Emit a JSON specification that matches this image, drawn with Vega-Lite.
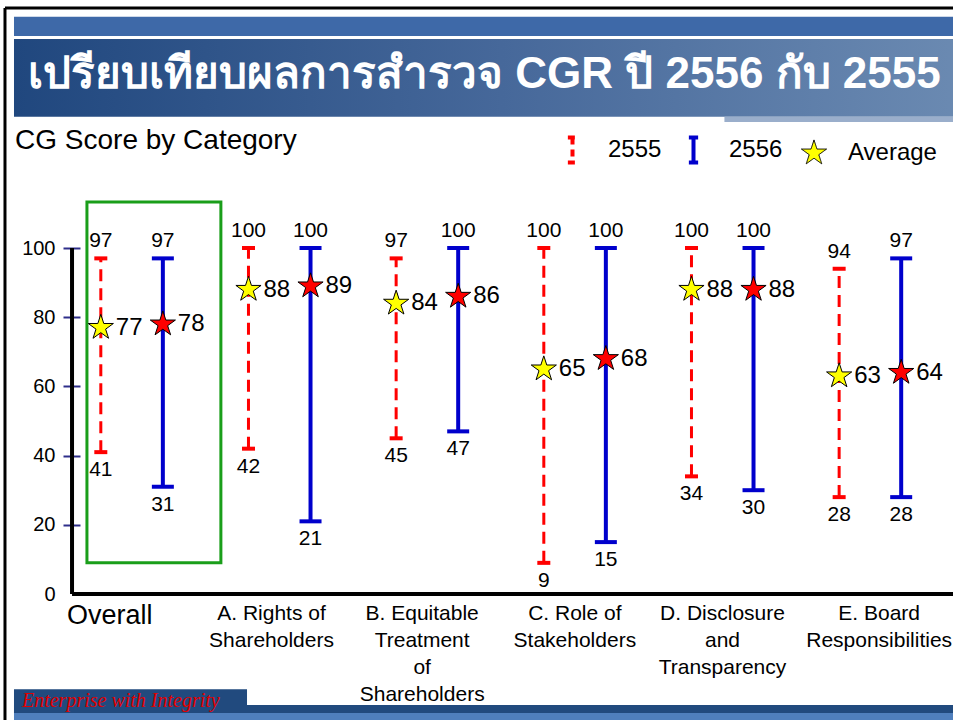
{
  "$schema": "https://vega.github.io/schema/vega-lite/v6.json",
  "width": 953,
  "height": 720,
  "autosize": {"type": "none"},
  "padding": 0,
  "background": "white",
  "config": {
    "view": {"stroke": null},
    "font": "Liberation Sans",
    "legend": {
      "orient": "none",
      "legendX": 557,
      "legendY": 134,
      "direction": "horizontal",
      "labelFontSize": 24,
      "labelFont": "Liberation Sans",
      "labelColor": "#000000",
      "labelOffset": 20,
      "columnPadding": 16,
      "symbolSize": 700,
      "padding": 0,
      "title": null
    }
  },
  "data": {
    "values": [
      {"category": "Overall", "year": "2555", "min": 41, "max": 97, "avg": 77},
      {"category": "Overall", "year": "2556", "min": 31, "max": 97, "avg": 78},
      {"category": "A. Rights of Shareholders", "year": "2555", "min": 42, "max": 100, "avg": 88},
      {"category": "A. Rights of Shareholders", "year": "2556", "min": 21, "max": 100, "avg": 89},
      {"category": "B. Equitable Treatment of Shareholders", "year": "2555", "min": 45, "max": 97, "avg": 84},
      {"category": "B. Equitable Treatment of Shareholders", "year": "2556", "min": 47, "max": 100, "avg": 86},
      {"category": "C. Role of Stakeholders", "year": "2555", "min": 9, "max": 100, "avg": 65},
      {"category": "C. Role of Stakeholders", "year": "2556", "min": 15, "max": 100, "avg": 68},
      {"category": "D. Disclosure and Transparency", "year": "2555", "min": 34, "max": 100, "avg": 88},
      {"category": "D. Disclosure and Transparency", "year": "2556", "min": 30, "max": 100, "avg": 88},
      {"category": "E. Board Responsibilities", "year": "2555", "min": 28, "max": 94, "avg": 63},
      {"category": "E. Board Responsibilities", "year": "2556", "min": 28, "max": 97, "avg": 64}
    ]
  },
  "layer": [
    {
      "mark": {"type": "rule"},
      "encoding": {
        "x": {"field": "category", "type": "nominal",
          "scale": {"type": "band", "domain": ["Overall", "A. Rights of Shareholders", "B. Equitable Treatment of Shareholders", "C. Role of Stakeholders", "D. Disclosure and Transparency", "E. Board Responsibilities"], "range": [58, 944], "paddingInner": 0, "paddingOuter": 0},
          "axis": {"orient": "bottom", "offset": -126, "domain": false, "ticks": false, "tickSize": 0, "grid": false, "labelPadding": 8, "labelBaseline": "top", "labelAngle": 0,
            "labelFontSize": {"condition": {"test": "datum.value == 'Overall'", "value": 27}, "value": 21},
            "labelOffset": {"condition": [
              {"test": "datum.value == 'Overall'", "value": -22},
              {"test": "datum.value == 'A. Rights of Shareholders'", "value": -8},
              {"test": "datum.value == 'B. Equitable Treatment of Shareholders'", "value": -5},
              {"test": "datum.value == 'E. Board Responsibilities'", "value": 9}
            ], "value": 0},
            "labelLineHeight": 27, "labelLimit": 0, "labelOverlap": false, "labelFlush": false, "labelColor": "#000000", "labelFont": "Liberation Sans",
            "labelExpr": "datum.label == 'A. Rights of Shareholders' ? ['A. Rights of', 'Shareholders'] : datum.label == 'B. Equitable Treatment of Shareholders' ? ['B. Equitable', 'Treatment', 'of', 'Shareholders'] : datum.label == 'C. Role of Stakeholders' ? ['C. Role of', 'Stakeholders'] : datum.label == 'D. Disclosure and Transparency' ? ['D. Disclosure', 'and', 'Transparency'] : datum.label == 'E. Board Responsibilities' ? ['E. Board', 'Responsibilities'] : datum.label",
            "title": null}},
        "xOffset": {"field": "year", "type": "nominal", "scale": {"domain": ["2555", "2556"], "paddingInner": 0, "paddingOuter": 0.19}},
        "y": {"field": "min", "type": "quantitative",
          "scale": {"domain": [0, 100], "range": [594, 248], "nice": false, "zero": false},
          "axis": {"orient": "left", "values": [0, 20, 40, 60, 80, 100], "offset": -80, "domain": false, "grid": false, "ticks": true, "tickSize": 17, "tickWidth": 2, "tickColor": "#2e2e8a",
            "tickOpacity": {"condition": {"test": "datum.value == 0", "value": 0}, "value": 1},
            "labelPadding": 8, "labelFontSize": 20, "labelColor": "#000000", "labelFont": "Liberation Sans", "title": null}},
        "y2": {"field": "max"},
        "stroke": {"condition": {"test": "datum.year == '2555'", "value": "#ff0000"}, "value": "#0000cc"},
        "strokeDash": {"condition": {"test": "datum.year == '2555'", "value": [12, 7]}, "value": [1, 0]},
        "strokeWidth": {"condition": {"test": "datum.year == '2555'", "value": 3}, "value": 4}
      }
    },
    {
      "data": {"values": [{}]},
      "mark": {"type": "rule", "stroke": "#000000", "strokeWidth": 3},
      "encoding": {
        "x": {"datum": "Overall", "bandPosition": -0.359, "type": "nominal"},
        "y": {"datum": 169.4, "type": "quantitative"},
        "y2": {"datum": -40}
      }
    },
    {
      "data": {"values": [{}]},
      "mark": {"type": "rule", "stroke": "#000000", "strokeWidth": 3},
      "encoding": {
        "x": {"datum": "Overall", "bandPosition": -0.359, "type": "nominal"},
        "x2": {"datum": "E. Board Responsibilities", "bandPosition": 1.3},
        "y": {"datum": 169.4, "type": "quantitative"}
      }
    },
    {
      "data": {"values": [{}]},
      "mark": {"type": "rect", "fill": "#3e69a8"},
      "encoding": {
        "x": {"datum": "Overall", "bandPosition": -0.298, "type": "nominal"},
        "x2": {"datum": "E. Board Responsibilities", "bandPosition": 1.3},
        "y": {"datum": 166.8, "type": "quantitative"},
        "y2": {"datum": 161.3}
      }
    },
    {
      "data": {"values": [{}]},
      "mark": {"type": "rect", "fill": {"gradient": "linear", "x1": 0, "y1": 0, "x2": 1, "y2": 0,
        "stops": [{"offset": 0, "color": "#20477e"}, {"offset": 0.5, "color": "#46689a"}, {"offset": 1, "color": "#6d8cb3"}]}},
      "encoding": {
        "x": {"datum": "Overall", "bandPosition": -0.298, "type": "nominal"},
        "x2": {"datum": "E. Board Responsibilities", "bandPosition": 1.3},
        "y": {"datum": 160.4, "type": "quantitative"},
        "y2": {"datum": 137.9}
      }
    },
    {
      "data": {"values": [{}]},
      "mark": {"type": "rect", "fill": "#9aaecb"},
      "encoding": {
        "x": {"datum": "D. Disclosure and Transparency", "bandPosition": 0.513, "type": "nominal"},
        "x2": {"datum": "E. Board Responsibilities", "bandPosition": 1.3},
        "y": {"datum": 137.9, "type": "quantitative"},
        "y2": {"datum": 136.4}
      }
    },
    {
      "data": {"values": [{}]},
      "mark": {"type": "rect", "fill": "#214a7e"},
      "encoding": {
        "x": {"datum": "Overall", "bandPosition": -0.298, "type": "nominal"},
        "x2": {"datum": "A. Rights of Shareholders", "bandPosition": 0.28},
        "y": {"datum": -27.5, "type": "quantitative"},
        "y2": {"datum": -34.4}
      }
    },
    {
      "data": {"values": [{}]},
      "mark": {"type": "rect", "fill": "#214a7e"},
      "encoding": {
        "x": {"datum": "Overall", "bandPosition": -0.298, "type": "nominal"},
        "x2": {"datum": "E. Board Responsibilities", "bandPosition": 1.3},
        "y": {"datum": -32.1, "type": "quantitative"},
        "y2": {"datum": -34.4}
      }
    },
    {
      "data": {"values": [{}]},
      "mark": {"type": "rect", "fill": "#4f7fbd"},
      "encoding": {
        "x": {"datum": "Overall", "bandPosition": -0.298, "type": "nominal"},
        "x2": {"datum": "E. Board Responsibilities", "bandPosition": 1.3},
        "y": {"datum": -34.4, "type": "quantitative"},
        "y2": {"datum": -40}
      }
    },
    {
      "data": {"values": [{"t": "Enterprise with Integrity"}]},
      "mark": {"type": "text", "align": "left", "baseline": "middle", "font": "Liberation Serif", "fontStyle": "italic", "fontSize": 20, "fill": "#e00000"},
      "encoding": {
        "x": {"datum": "Overall", "bandPosition": -0.244, "type": "nominal"},
        "y": {"datum": -30.9, "type": "quantitative"},
        "text": {"field": "t"}
      }
    },
    {
      "data": {"values": [{"t": "เปรียบเทียบผลการสำรวจ CGR ปี 2556 กับ 2555"}]},
      "mark": {"type": "text", "align": "left", "baseline": "middle", "fontSize": 44, "fontWeight": "bold", "fill": "#ffffff"},
      "encoding": {
        "x": {"datum": "Overall", "bandPosition": -0.203, "type": "nominal"},
        "y": {"datum": 150, "type": "quantitative"},
        "text": {"field": "t"}
      }
    },
    {
      "data": {"values": [{"t": "CG Score by Category"}]},
      "mark": {"type": "text", "align": "left", "baseline": "middle", "fontSize": 28, "fill": "#000000"},
      "encoding": {
        "x": {"datum": "Overall", "bandPosition": -0.291, "type": "nominal"},
        "y": {"datum": 130.9, "type": "quantitative"},
        "text": {"field": "t"}
      }
    },
    {
      "data": {"values": [{}]},
      "mark": {"type": "rect", "fill": null, "stroke": "#1a9e1a", "strokeWidth": 3},
      "encoding": {
        "x": {"datum": "Overall", "bandPosition": 0.196, "type": "nominal"},
        "x2": {"datum": "Overall", "bandPosition": 1.103},
        "y": {"datum": 9.0, "type": "quantitative"},
        "y2": {"datum": 113.3}
      }
    },
    {
      "data": {"values": [{}]},
      "mark": {"type": "rule", "stroke": "#000000", "strokeWidth": 4},
      "encoding": {
        "x": {"datum": "Overall", "bandPosition": 0.095, "type": "nominal"},
        "x2": {"datum": "E. Board Responsibilities", "bandPosition": 1.3},
        "y": {"datum": 0, "type": "quantitative"}
      }
    },
    {
      "data": {"values": [{}]},
      "mark": {"type": "rule", "stroke": "#000000", "strokeWidth": 4},
      "encoding": {
        "x": {"datum": "Overall", "bandPosition": 0.095, "type": "nominal"},
        "y": {"datum": 0, "type": "quantitative"},
        "y2": {"datum": 100}
      }
    },
    {
      "mark": {"type": "tick", "thickness": 4, "opacity": 1},
      "encoding": {
        "x": {"field": "category", "type": "nominal"},
        "xOffset": {"field": "year", "type": "nominal"},
        "y": {"field": "min", "type": "quantitative"},
        "color": {"condition": {"test": "datum.year == '2555'", "value": "#ff0000"}, "value": "#0000cc"},
        "size": {"condition": {"test": "datum.year == '2555'", "value": 13}, "value": 22}
      }
    },
    {
      "mark": {"type": "tick", "thickness": 4, "opacity": 1},
      "encoding": {
        "x": {"field": "category", "type": "nominal"},
        "xOffset": {"field": "year", "type": "nominal"},
        "y": {"field": "max", "type": "quantitative"},
        "color": {"condition": {"test": "datum.year == '2555'", "value": "#ff0000"}, "value": "#0000cc"},
        "size": {"condition": {"test": "datum.year == '2555'", "value": 13}, "value": 22}
      }
    },
    {
      "mark": {"type": "point", "shape": "M0,-1L0.2245,-0.309L0.951,-0.309L0.363,0.118L0.588,0.809L0,0.382L-0.588,0.809L-0.363,0.118L-0.951,-0.309L-0.2245,-0.309Z", "size": 700, "stroke": "#000000", "strokeWidth": 1, "opacity": 1, "filled": true},
      "encoding": {
        "x": {"field": "category", "type": "nominal"},
        "xOffset": {"field": "year", "type": "nominal"},
        "y": {"field": "avg", "type": "quantitative"},
        "fill": {"condition": {"test": "datum.year == '2555'", "value": "#ffff00"}, "value": "#ff0000"}
      }
    },
    {
      "mark": {"type": "text", "align": "left", "baseline": "middle", "dx": 15, "fontSize": 24, "fill": "#000000"},
      "encoding": {
        "x": {"field": "category", "type": "nominal"},
        "xOffset": {"field": "year", "type": "nominal"},
        "y": {"field": "avg", "type": "quantitative"},
        "text": {"field": "avg"}
      }
    },
    {
      "mark": {"type": "text", "align": "center", "baseline": "middle", "dy": 18, "fontSize": 21, "fill": "#000000"},
      "encoding": {
        "x": {"field": "category", "type": "nominal"},
        "xOffset": {"field": "year", "type": "nominal"},
        "y": {"field": "min", "type": "quantitative"},
        "text": {"field": "min"}
      }
    },
    {
      "mark": {"type": "text", "align": "center", "baseline": "middle", "dy": -17, "fontSize": 21, "fill": "#000000"},
      "encoding": {
        "x": {"field": "category", "type": "nominal"},
        "xOffset": {"field": "year", "type": "nominal"},
        "y": {"field": "max", "type": "quantitative"},
        "text": {"field": "max"}
      }
    },
    {
      "data": {"values": [{"series": "2555"}, {"series": "2556"}, {"series": "Average"}]},
      "transform": [{"filter": "datum.series == 'none'"}],
      "mark": {"type": "point", "opacity": 1, "size": 700},
      "encoding": {
        "shape": {"field": "series", "type": "nominal", "title": null,
          "scale": {"domain": ["2555", "2556", "Average"], "range": ["M-0.35,-0.95L0.35,-0.95M0,-0.95L0,0.95M-0.35,0.95L0.35,0.95", "M-0.35,-0.95L0.35,-0.95M0,-0.95L0,0.95M-0.35,0.95L0.35,0.95", "M0,-1L0.2245,-0.309L0.951,-0.309L0.363,0.118L0.588,0.809L0,0.382L-0.588,0.809L-0.363,0.118L-0.951,-0.309L-0.2245,-0.309Z"]}},
        "fill": {"field": "series", "type": "nominal", "title": null,
          "scale": {"domain": ["2555", "2556", "Average"], "range": ["transparent", "transparent", "#ffff00"]}},
        "stroke": {"field": "series", "type": "nominal", "title": null,
          "scale": {"domain": ["2555", "2556", "Average"], "range": ["#ff0000", "#0000cc", "#000000"]}},
        "strokeDash": {"field": "series", "type": "nominal", "title": null,
          "scale": {"domain": ["2555", "2556", "Average"], "range": [[7, 5], [1, 0], [1, 0]]}},
        "strokeWidth": {"field": "series", "type": "ordinal", "title": null,
          "scale": {"type": "ordinal", "domain": ["2555", "2556", "Average"], "range": [4, 4, 1]}}
      }
    }
  ]
}
